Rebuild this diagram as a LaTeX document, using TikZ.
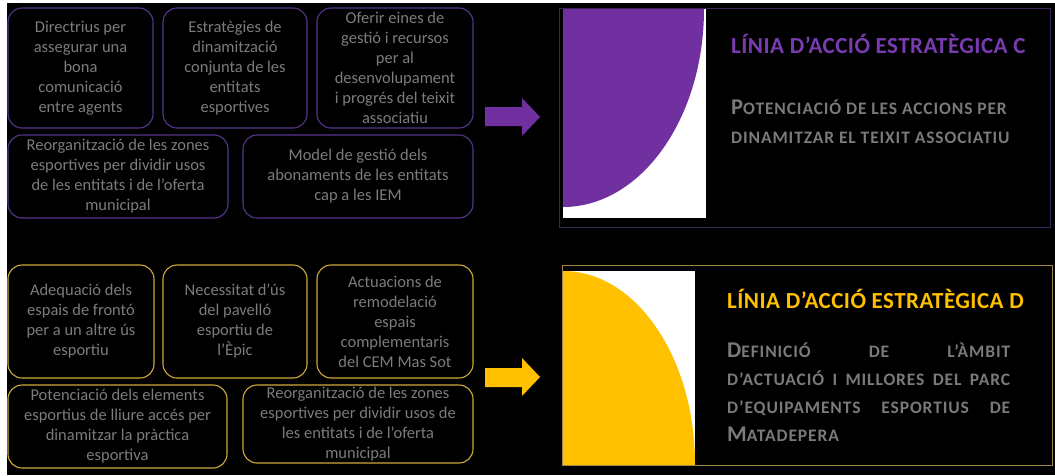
\documentclass[tikz,border=0pt]{standalone}
\usepackage{fontspec}
\setmainfont{Carlito}
\newfontfamily\scfont[LetterSpace=5]{Carlito}
\newfontfamily\ttlfont[LetterSpace=2]{Carlito}
\definecolor{lpurple}{HTML}{7030A0}
\definecolor{tpurple}{HTML}{7A3BB0}
\definecolor{lgold}{HTML}{FFC000}
\definecolor{boxpurple}{HTML}{55358A}
\definecolor{boxgold}{HTML}{D0A93A}
\definecolor{boxgrey}{HTML}{7C7C7C}
\definecolor{subgrey}{HTML}{7A7A7A}
\definecolor{framepurple}{HTML}{3B2458}
\definecolor{framegold}{HTML}{A08444}
\newcommand\boxfont{\fontsize{16.5}{20}\selectfont}
\newcommand\ttlsize{\ttlfont\bfseries\fontsize{23}{27}\selectfont}
\newcommand\scBig{\fontsize{22.5}{28}\selectfont}
\newcommand\scSmall{\fontsize{17.5}{28}\selectfont}
\tikzset{
  item/.style={draw, rounded corners=14pt, line width=1.1pt, fill=black,
    text=boxgrey, align=center, font=\boxfont, inner sep=0pt},
  itemP/.style={item, draw=boxpurple},
  itemY/.style={item, draw=boxgold},
  panel/.style={draw, line width=1pt, fill=black, inner sep=0pt},
  ttl/.style={anchor=base west, inner sep=0pt, font=\ttlsize},
  sub/.style={anchor=base west, inner sep=0pt, text=subgrey, font=\scfont\bfseries},
}
\begin{document}
\begin{tikzpicture}[x=1pt,y=-1pt]
\useasboundingbox (0,0) rectangle (1055,475);
\fill[white] (0,0) rectangle (1055,475);
\fill[black] (7,3) rectangle (1055,475);

% purple group
\node[itemP, minimum width=145pt, minimum height=120pt] (p1) at (80.5,68)
  {Directrius per\\assegurar una\\bona\\comunicació\\entre agents};
\node[itemP, minimum width=144pt, minimum height=120pt] (p2) at (235,68)
  {Estratègies de\\dinamització\\conjunta de les\\entitats\\esportives};
\node[itemP, minimum width=156pt, minimum height=120pt] (p3) at (395,68)
  {Oferir eines de\\gestió i recursos\\per al\\desenvolupament\\i progrés del teixit\\associatiu};
\node[itemP, minimum width=220pt, minimum height=83pt] (p4) at (118,176.5)
  {Reorganització de les zones\\esportives per dividir usos\\de les entitats i de l’oferta\\municipal};
\node[itemP, minimum width=230pt, minimum height=83pt] (p5) at (358,176.5)
  {Model de gestió dels\\abonaments de les entitats\\cap a les IEM};

% gold group
\node[itemY, minimum width=146pt, minimum height=113pt] (y1) at (81,321.5)
  {Adequació dels\\espais de frontó\\per a un altre ús\\esportiu};
\node[itemY, minimum width=144pt, minimum height=113pt] (y2) at (235,321.5)
  {Necessitat d’ús\\del pavelló\\esportiu de\\l’Èpic};
\node[itemY, minimum width=156pt, minimum height=113pt] (y3) at (395,321.5)
  {Actuacions de\\remodelació\\espais\\complementaris\\del CEM Mas Sot};
\node[itemY, minimum width=219pt, minimum height=83pt] (y4) at (117.5,426.5)
  {Potenciació dels elements\\esportius de lliure accés per\\dinamitzar la pràctica\\esportiva};
\node[itemY, minimum width=230pt, minimum height=78pt] (y5) at (358,424)
  {Reorganització de les zones\\esportives per dividir usos de\\les entitats i de l’oferta\\municipal};

% arrows
\fill[lpurple] (485,107) -- (522,107) -- (522,98) -- (540,117) -- (522,136) -- (522,126) -- (485,126) -- cycle;
\fill[lgold] (485,368) -- (522,368) -- (522,358) -- (540,377) -- (522,396) -- (522,387) -- (485,387) -- cycle;

% panel C
\node[panel, draw=framepurple, minimum width=491pt, minimum height=219pt] (pc) at (804.5,117.5) {};
\fill[white] (563,9) rectangle (706,218);
\begin{scope}
  \clip (563,9) rectangle (706,218);
  \fill[lpurple] (563,9) ellipse [x radius=141pt, y radius=198pt];
\end{scope}
\node[ttl, text=tpurple] (ct) at (731,53) {LÍNIA D’ACCIÓ ESTRATÈGICA C};
\node[sub] (cs1) at (731,114) {{\scBig P}{\scSmall OTENCIACIÓ DE LES ACCIONS PER}};
\node[sub] (cs2) at (731,143) {{\scSmall DINAMITZAR EL TEIXIT ASSOCIATIU}};

% panel D
\node[panel, draw=framegold, minimum width=490pt, minimum height=200pt] (pd) at (807,365) {};
\fill[white] (563,271) rectangle (695,464);
\begin{scope}
  \clip (563,271) rectangle (695,464);
  \fill[lgold] (563,464) ellipse [x radius=132pt, y radius=193pt];
\end{scope}
\node[ttl, text=lgold] (dt) at (727,308) {LÍNIA D’ACCIÓ ESTRATÈGICA D};
\node[sub] (ds1) at (727,357) {\makebox[283pt][s]{{\scBig D}{\scSmall EFINICIÓ} {\scSmall DE} {\scSmall L’ÀMBIT}}};
\node[sub] (ds2) at (727,385) {\makebox[283pt][s]{\scSmall D’ACTUACIÓ I MILLORES DEL PARC}};
\node[sub] (ds3) at (727,413) {\makebox[283pt][s]{\scSmall D’EQUIPAMENTS ESPORTIUS DE}};
\node[sub] (ds4) at (727,441) {{\scBig M}{\scSmall ATADEPERA}};
\end{tikzpicture}
\end{document}
